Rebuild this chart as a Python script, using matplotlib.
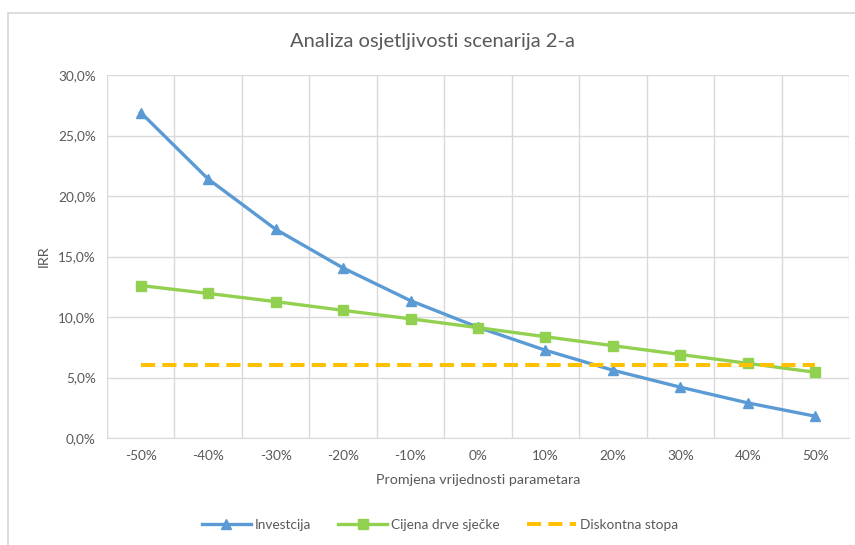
import matplotlib.pyplot as plt
from matplotlib.patches import Rectangle
from matplotlib.ticker import FuncFormatter

plt.rcParams['font.family'] = ['Lato', 'DejaVu Sans']

# data
promjena = ['-50%', '-40%', '-30%', '-20%', '-10%', '0%', '10%', '20%', '30%', '40%', '50%']
investicija = [26.9, 21.4, 17.25, 14.05, 11.35, 9.15, 7.25, 5.6, 4.2, 2.9, 1.8]
cijena_drve = [12.6, 11.95, 11.27, 10.55, 9.85, 9.12, 8.37, 7.63, 6.9, 6.17, 5.43]
diskontna = [6.0] * len(promjena)

grid_col = '#d9d9d9'
text_col = '#595959'

fig = plt.figure(figsize=(8.55, 5.45), dpi=100)
fig.patch.set_facecolor('white')

# chart frame like the Excel border
fig.patches.append(Rectangle((8 / 855, -0.05), 1.2, 1 - 13 / 545 + 0.05,
                             transform=fig.transFigure, fill=False,
                             edgecolor=grid_col, linewidth=1.3))

ax = fig.add_axes([107 / 855, 1 - 438 / 545, (849 - 107) / 855, (438 - 75) / 545])
x = list(range(len(promjena)))

ax.plot(x, investicija, color='#5B9BD5', lw=2.4, marker='^', ms=7.5, label='Investcija')
ax.plot(x, cijena_drve, color='#92D050', lw=2.4, marker='s', ms=7, label='Cijena drve sječke')
ax.plot(x, diskontna, color='#FFC000', lw=2.9, linestyle=(0, (3.5, 1.8)), label='Diskontna stopa')

ax.set_xlim(-0.5, len(promjena) - 0.5)
ax.set_ylim(0, 30)
ax.set_yticks(range(0, 31, 5))
ax.yaxis.set_major_formatter(FuncFormatter(lambda v, p: f'{v:.1f}%'.replace('.', ',')))
ax.set_xticks(x)
ax.set_xticklabels(promjena)
ax.set_xticks([i - 0.5 for i in range(len(promjena) + 1)], minor=True)

ax.grid(True, axis='y', which='major', color=grid_col, lw=1)
ax.grid(True, axis='x', which='minor', color=grid_col, lw=1)
ax.set_axisbelow(True)
for s in ax.spines.values():
    s.set_visible(False)
ax.spines['bottom'].set_visible(True)
ax.spines['bottom'].set_color(grid_col)
ax.tick_params(which='both', length=0, colors=text_col, labelsize=9.8)
ax.tick_params(axis='x', pad=9)
ax.tick_params(axis='y', pad=8)

ax.set_xlabel('Promjena vrijednosti parametara', color=text_col, fontsize=10.3, labelpad=8)
ax.set_ylabel('IRR', color=text_col, fontsize=10.3, labelpad=6)

fig.text(432 / 855, 1 - 42 / 545, 'Analiza osjetljivosti scenarija 2-a',
         ha='center', va='center', fontsize=14.5, color=text_col)

fig.legend(loc='center', bbox_to_anchor=(440 / 855, 1 - 525 / 545), ncol=3,
           frameon=False, fontsize=9.8, handlelength=3.6, columnspacing=2.0,
           handletextpad=0.3, labelcolor=text_col)

fig.savefig('out.png', dpi=100)
